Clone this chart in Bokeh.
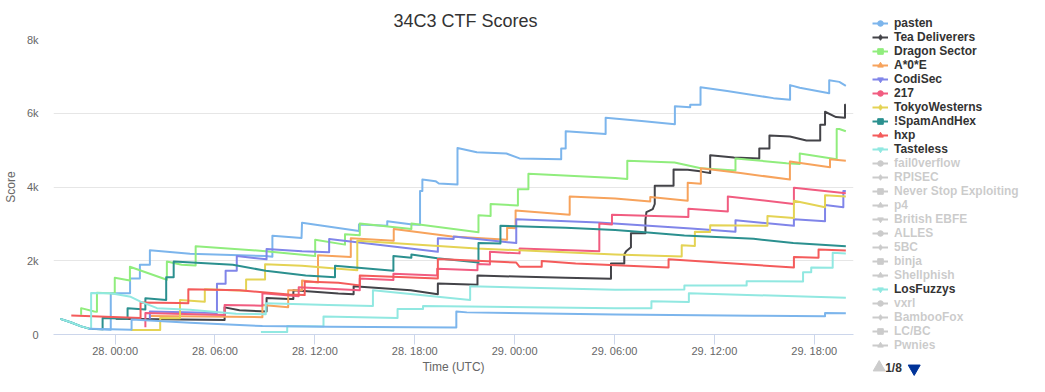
from bokeh.plotting import figure
from bokeh.layouts import row, column
from bokeh.models import (FixedTicker, Legend, LegendItem, ColumnDataSource, Range1d, Title)
from bokeh.core.properties import value
from bokeh.embed import file_html
from bokeh.resources import INLINE

# ---- data: (hours since 28 Dec 00:00 UTC, score) ----
pasten = [(-3.29,424),(-2.63,325),(-2.04,220),(-1.56,159),(-0.26,127),(-0.26,1120),(0.90,1120),(0.90,1518),
          (1.49,1518),(1.49,1889),(2.09,1889),(2.09,2286),(4.50,2193),(9.05,2127),(9.45,2110),(9.45,2675),
          (11.20,2617),(11.23,3028),(14.65,2808),(14.65,2983),(16.35,2948),(16.35,3073),(17.86,2983),
          (18.32,2975),(18.32,3894),(18.46,3894),(18.46,4201),(19.25,4159),(19.45,4095),(20.57,4069),
          (20.57,5060),(21.73,4943),(23.51,4909),(24.30,4776),(26.80,4750),(26.80,5041),(27.07,5041),
          (27.07,5510),(29.47,5439),(29.47,5881),(31.63,5792),(33.63,5704),(33.63,6188),(34.55,6162),
          (34.55,6233),(35.17,6233),(35.17,6702),(36.77,6604),(39.55,6410),(40.55,6366),(40.55,6763),
          (41.13,6692),(42.90,6543),(42.90,6895),(43.51,6851),(43.90,6744)]
tea = [(0.04,424),(6.58,392),(6.58,736),(7.47,657),(8.76,630),(9.10,625),(9.10,988),(10.44,962),(10.71,960),
       (10.71,1200),(13.41,1112),(14.33,1094),(14.33,1306),(17.76,1200),(19.39,1094),(19.39,1385),
       (21.77,1346),(21.77,1597),(24.10,1571),(27.07,1536),(29.79,1510),(29.79,1923),(30.59,1923),
       (30.59,2167),(30.70,2260),(30.99,2366),(30.99,2745),(31.86,2745),(31.86,3107),(31.92,3319),
       (32.30,3400),(32.42,3539),(32.42,4035),(33.55,4035),(33.55,4472),(34.40,4466),(35.15,4424),
       (35.49,4397),(35.75,4379),(35.75,4864),(37.17,4803),(38.70,4776),(38.70,5041),(39.31,5041),
       (39.31,5394),(40.54,5367),(41.53,5261),(42.36,5261),(42.36,5685),(42.65,5685),(42.65,6040),
       (43.31,5897),(43.85,5881),(43.85,6233),(43.90,6233)]
dragon = [(-2.04,538),(-2.04,715),(-1.25,626),(-1.09,620),(-1.09,1129),(-0.02,1112),(-0.02,1536),
          (0.89,1465),(0.89,1836),(3.11,1483),(3.11,1977),(4.00,1889),(4.84,1870),(4.84,2392),
          (9.05,2260),(12.02,2127),(12.02,2570),(13.81,2437),(13.81,2718),(14.70,2692),(14.70,3010),
          (17.80,2861),(17.80,3010),(21.83,2771),(21.83,3232),(22.56,3213),(22.56,3540),(24.20,3497),
          (24.20,3937),(24.83,3937),(24.83,4361),(30.04,4246),(30.77,4220),(30.77,4715),(33.61,4662),
          (35.19,4511),(37.27,4450),(37.27,4776),(40.34,4644),(41.13,4626),(41.13,4909),(43.35,4750),
          (43.35,5571),(43.51,5571),(43.90,5510)]
a0e = [(2.12,500),(8.85,470),(8.85,803),(10.40,741),(10.40,1200),(11.23,1200),(11.23,1465),(12.19,1410),
       (12.19,2150),(14.16,2100),(14.16,2613),(16.74,2543),(16.74,2861),(20.24,2657),(23.55,2570),
       (23.55,2895),(24.06,2880),(24.06,3364),(27.31,3248),(27.31,3743),(30.04,3690),(32.15,3610),
       (32.15,3730),(34.40,3629),(34.40,4114),(35.19,4090),(35.19,4511),(37.57,4379),(40.54,4201),
       (40.54,4689),(42.95,4538),(42.95,4750),(43.90,4715)]
codisec = [(2.09,424),(2.09,626),(6.12,583),(6.12,1377),(6.64,1377),(6.64,1730),(7.31,1730),(7.31,2127),
           (9.10,2040),(9.10,2321),(11.23,2260),(12.86,2233),(12.86,2590),(19.39,2241),(19.39,2612),
           (20.34,2590),(20.34,2657),(24.10,2480),(24.10,3126),(29.05,3036),(34.60,2877),(37.27,2789),
           (37.27,3099),(40.78,2948),(40.78,3126),(42.65,3073),(42.65,3513),(43.75,3452),(43.75,3894),
           (43.90,3894)]
t217 = [(1.82,200),(1.82,583),(6.58,530),(6.58,800),(8.85,780),(8.85,1120),(11.03,1040),(11.03,1280),
        (14.70,1200),(14.70,1520),(16.72,1480),(16.72,1650),(19.35,1600),(19.35,1780),(21.77,1740),
        (21.77,1910),(22.52,1900),(22.52,2241),(24.30,2200),(24.30,2331),(29.09,2260),(29.09,3010),
        (29.85,2983),(29.85,3248),(34.44,3187),(34.44,3407),(36.81,3338),(36.81,3743),(40.78,3540),
        (40.78,3981),(43.90,3831)]
tokyo = [(0.94,122),(2.71,120),(2.71,450),(3.90,440),(3.90,935),(5.39,890),(5.39,1226),(7.87,1187),
         (7.87,1491),(9.01,1491),(9.01,1907),(11.23,1862),(13.41,1783),(14.55,1743),(14.55,2543),
         (21.73,2331),(30.04,2172),(34.04,2115),(34.04,2418),(34.83,2400),(34.83,2789),(35.75,2780),
         (35.75,2962),(39.19,2948),(39.19,3213),(40.78,3160),(40.78,3629),(42.65,3452),(42.65,3778),
         (43.90,3743)]
spam = [(-3.29,424),(-2.63,325),(-2.04,220),(-1.56,159),(-0.75,140),(-0.75,450),(0.75,430),(0.75,715),
        (1.82,680),(1.82,980),(3.07,935),(3.07,1553),(3.52,1553),(3.52,1977),(7.07,1889),(9.05,1730),
        (11.45,1597),(13.21,1553),(13.21,1862),(16.72,1730),(16.72,2127),(17.80,2082),(17.80,2172),
        (19.35,2066),(21.83,1950),(21.83,2480),(23.15,2470),(23.15,2948),(27.07,2895),(30.04,2834),
        (31.82,2771),(34.20,2684),(38.36,2596),(40.74,2480),(43.90,2392)]
hxp = [(-2.63,512),(1.53,450),(1.53,869),(3.78,855),(4.40,850),(4.40,1226),(7.47,1200),(10.44,1086),
       (11.39,1068),(11.39,1438),(13.41,1404),(14.70,1332),(14.70,1597),(19.39,1518),(19.39,2048),
       (24.10,1950),(24.30,1836),(25.63,1836),(25.63,1995),(27.67,1923),(33.25,1817),(33.25,2040),
       (40.78,1817),(40.78,2101),(42.26,2082),(42.26,2305),(43.90,2278)]
tasteless = [(-3.29,424),(-2.63,325),(-2.04,220),(-1.56,159),(-1.44,155),(-1.44,1128),(-0.26,1120),
             (0.94,1023),(1.53,890),(2.52,715),(4.50,670),(7.27,564),(9.05,551),(9.05,848),(12.81,803),
             (15.49,776),(15.49,1200),(21.33,935),(21.33,1306),(30.04,1213),(34.20,1218),(34.20,1332),
             (37.94,1332),(37.94,1446),(41.33,1440),(41.33,1685),(41.82,1685),(41.82,1817),(43.11,1810),
             (43.11,2215),(43.90,2199)]
losfuzzys = [(8.76,69),(10.34,69),(10.34,233),(12.52,220),(12.52,485),(16.97,450),(16.97,689),
             (18.50,689),(18.50,770),(30.04,715),(32.22,715),(32.22,900),(34.47,882),(34.47,1120),
             (43.90,996)]
lower_team = [(-1.56,159),(0.99,132),(0.99,405),(4.50,318),(8.85,228),(12.81,212),(20.50,193),
              (20.50,626),(21.13,600),(30.04,540),(38.36,511),(42.65,493),(42.65,583),(43.90,575)]

legend_names = ["pasten", "Tea Deliverers", "Dragon Sector", "A*0*E", "CodiSec", "217",
                "TokyoWesterns", "!SpamAndHex", "hxp", "Tasteless", "fail0verflow", "RPISEC",
                "Never Stop Exploiting", "p4", "British EBFE", "ALLES", "5BC", "binja",
                "Shellphish", "LosFuzzys", "vxrl", "BambooFox", "LC/BC", "Pwnies"]
series_data = {"pasten": pasten, "Tea Deliverers": tea, "Dragon Sector": dragon, "A*0*E": a0e,
               "CodiSec": codisec, "217": t217, "TokyoWesterns": tokyo, "!SpamAndHex": spam,
               "hxp": hxp, "Tasteless": tasteless, "LosFuzzys": losfuzzys}
palette = ["#7cb5ec", "#434348", "#90ed7d", "#f7a35c", "#8085e9",
           "#f15c80", "#e4d354", "#2b908f", "#f45b5b", "#91e8e1"]
markers = ["circle", "diamond", "square", "triangle", "inverted_triangle"]
page_label = "1/8"

x_ticks = [0, 6, 12, 18, 24, 30, 36, 42]
x_tick_labels = ["28. 00:00", "28. 06:00", "28. 12:00", "28. 18:00",
                 "29. 00:00", "29. 06:00", "29. 12:00", "29. 18:00"]
y_ticks = [0, 2000, 4000, 6000, 8000]
y_tick_labels = ["0", "2k", "4k", "6k", "8k"]

FONT = "Liberation Sans"
NAN = float("nan")
H = 376          # figure height
QW = 159         # legend panel width

# ---------------- main chart ----------------
p = figure(width=862, height=H, output_backend="svg", toolbar_location=None,
           x_range=Range1d(-3.70, 44.36), y_range=Range1d(0, 8000),
           min_border_left=44, min_border_right=9, min_border_top=35, min_border_bottom=39,
           background_fill_color="white", border_fill_color="white")
p.outline_line_color = None
p.title = Title(text="34C3 CTF Scores", align="left", offset=340, standoff=17,
                text_font=FONT, text_font_size="18px", text_font_style="normal",
                text_color="#333333", text_line_height=1.0)

p.xgrid.grid_line_color = None
p.ygrid.grid_line_color = "#e6e6e6"
p.ygrid.ticker = FixedTicker(ticks=y_ticks)

xa = p.xaxis[0]
xa.ticker = FixedTicker(ticks=x_ticks)
xa.major_label_overrides = {t: l for t, l in zip(x_ticks, x_tick_labels)}
xa.axis_line_color = "#ccd6eb"
xa.major_tick_line_color = "#ccd6eb"
xa.major_tick_out = 10
xa.major_tick_in = 0
xa.minor_tick_line_color = None
xa.minor_tick_out = 0
xa.major_label_standoff = 0
xa.major_label_text_font = FONT
xa.major_label_text_font_size = "11px"
xa.major_label_text_color = "#666666"
xa.axis_label = "Time (UTC)"
xa.axis_label_text_font = FONT
xa.axis_label_text_font_size = "12px"
xa.axis_label_text_font_style = "normal"
xa.axis_label_text_color = "#666666"
xa.axis_label_standoff = 0

ya = p.yaxis[0]
ya.ticker = FixedTicker(ticks=y_ticks)
ya.major_label_overrides = {t: l for t, l in zip(y_ticks, y_tick_labels)}
ya.axis_line_color = None
ya.major_tick_line_color = None
ya.minor_tick_line_color = None
ya.major_tick_out = 0
ya.major_tick_in = 0
ya.minor_tick_out = 0
ya.major_label_standoff = 15
ya.major_label_text_font = FONT
ya.major_label_text_font_size = "11px"
ya.major_label_text_color = "#666666"
ya.axis_label = "Score"
ya.axis_label_text_font = FONT
ya.axis_label_text_font_size = "12px"
ya.axis_label_text_font_style = "normal"
ya.axis_label_text_color = "#666666"
ya.axis_label_standoff = 6

for i, name in enumerate(legend_names):
    data = series_data.get(name)
    if data is None:
        continue
    src = ColumnDataSource(dict(t=[d[0] for d in data], v=[d[1] for d in data]))
    p.line("t", "v", source=src, line_color=palette[i % 10], line_width=2, line_join="round")

# a lower-ranked team from a later legend page, still shown
src = ColumnDataSource(dict(t=[d[0] for d in lower_team], v=[d[1] for d in lower_team]))
p.line("t", "v", source=src, line_color="#7cb5ec", line_width=2, line_join="round")

# ---------------- legend panel (own figure, pixel coordinates, y down) ----------------
q = figure(width=QW, height=H, output_backend="svg", toolbar_location=None,
           x_range=Range1d(0, QW), y_range=Range1d(H, 0),
           x_axis_type=None, y_axis_type=None,
           min_border_left=0, min_border_right=0, min_border_top=0, min_border_bottom=0,
           background_fill_color="white", border_fill_color="white")
q.outline_line_color = None
q.grid.visible = False

items = []
for i, name in enumerate(legend_names):
    shown = name in series_data
    color = palette[i % 10] if shown else "#333333"
    mk = markers[i % 5]
    r = q.line(x=[NAN], y=[NAN], line_color=color, line_width=2, visible=shown)
    m = q.scatter(x=[NAN], y=[NAN], marker=mk, size=8, fill_color=color,
                  line_color=color, visible=shown)
    items.append(LegendItem(label=name, renderers=[r, m]))

legend = Legend(items=items, location=(10, 24), orientation="vertical",
                click_policy="hide", inactive_fill_color="white", inactive_fill_alpha=0.75,
                glyph_width=16, glyph_height=14, label_height=14, spacing=0, padding=0,
                margin=0, label_standoff=6, border_line_color=None, background_fill_alpha=0,
                label_text_font=FONT, label_text_font_size="12px", label_text_font_style="bold",
                label_text_color="#333333", label_text_line_height=1.0)
q.add_layout(legend, "center")

# legend pager: ▲ 1/8 ▼
q.scatter(x=[16.7], y=[367], marker="triangle", size=12, fill_color="#cccccc", line_color="#cccccc")
q.scatter(x=[51.7], y=[368], marker="inverted_triangle", size=12, fill_color="#003399",
          line_color="#003399")
q.text(x=[22.7], y=[367], text=[page_label], text_font=value(FONT), text_font_size="12px",
       text_font_style="bold", text_color="#333333", text_baseline="middle")

open("out.html", "w").write(file_html(row(p, column(q)), INLINE))
